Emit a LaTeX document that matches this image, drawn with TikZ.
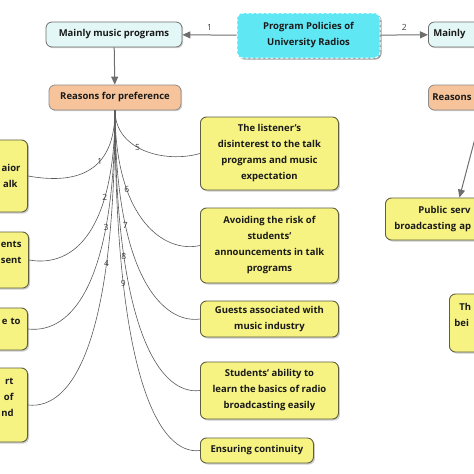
\documentclass[tikz,border=0pt]{standalone}
\usepackage{fontspec}
\setmainfont{Open Sans}
\definecolor{cCyan}{HTML}{5FE8F4}
\definecolor{cIce}{HTML}{E2F7F6}
\definecolor{cPeach}{HTML}{F6C39A}
\definecolor{cYellow}{HTML}{F6F383}
\definecolor{cEdge}{HTML}{6E6E6E}
\definecolor{cOlive}{HTML}{5E5E40}
\definecolor{cText}{HTML}{1A1A1A}
\usetikzlibrary{shapes,arrows.meta,shadows}
\tikzset{
  box/.style={rounded corners=6pt, font=\bfseries\fontsize{9.5}{16}\selectfont, text=cText, align=center, inner sep=0pt},
  root/.style={box, fill=cCyan, draw=white, densely dashed, line width=1pt, drop shadow={shadow xshift=1.5pt, shadow yshift=-1.5pt, fill=black!75}},
  topic/.style={box, fill=cIce, draw=cEdge, line width=0.8pt, drop shadow={shadow xshift=1.2pt, shadow yshift=-1.2pt, fill=black!35}},
  reason/.style={box, fill=cPeach, draw=cEdge!80, line width=0.8pt, drop shadow={shadow xshift=1.2pt, shadow yshift=-1.2pt, fill=black!35}},
  why/.style={box, fill=cYellow, draw=cOlive, line width=0.9pt, drop shadow={shadow xshift=1.5pt, shadow yshift=-1.5pt, fill=black!40}},
  link/.style={draw=cEdge, line width=1pt, -{Triangle[length=8pt,width=7pt]}},
  curve/.style={draw=black!65, line width=0.6pt},
  num/.style={font=\fontsize{8.5}{9}\selectfont, text=black!75, inner sep=1pt}
}
\begin{document}
\begin{tikzpicture}[x=1pt,y=1pt]
\path[use as bounding box, clip] (0,0) rectangle (474,-474);
% top level
\node[root, minimum width=143pt, minimum height=45pt] (policy) at (308.5,-35.5) {Program Policies of\\University Radios};
\node[topic, minimum width=136pt, minimum height=25pt] (music) at (114,-34.5) {Mainly music programs};
\node[topic, anchor=west, text width=102pt, align=left, inner xsep=5pt, minimum height=25pt] (talk) at (428,-34.5) {Mainly};
\node[reason, minimum width=132pt, minimum height=25pt] (prefer) at (115,-97.5) {Reasons for preference};
\node[reason, anchor=west, text width=104pt, align=left, inner xsep=4pt, minimum height=25pt] (prefer2) at (428,-97.5) {Reasons};
% reasons, right column
\node[why, anchor=west, minimum width=138pt, minimum height=73pt] (r1) at (200,-153.5) {The listener's\\disinterest to the talk\\programs and music\\expectation};
\node[why, anchor=west, minimum width=138pt, minimum height=75pt] (r2) at (200,-245.5) {Avoiding the risk of\\students'\\announcements in talk\\programs};
\node[why, anchor=west, minimum width=138pt, minimum height=36pt] (r3) at (200,-319) {Guests associated with\\music industry};
\node[why, anchor=west, minimum width=138pt, minimum height=57pt] (r4) at (200,-390.5) {Students' ability to\\learn the basics of radio\\broadcasting easily};
\node[why, anchor=west, minimum width=113pt, minimum height=25pt] (r5) at (200,-450.5) {Ensuring continuity};
% reasons, left column (cut by the edge)
\node[why, anchor=east, text width=120pt, align=right, inner xsep=7pt, minimum height=72pt] (l1) at (28,-176) {aior\\alk\hspace*{3pt}};
\node[why, anchor=east, text width=120pt, align=right, inner xsep=7pt, minimum height=56pt] (l2) at (29,-260) {ents\\sent\hspace*{1pt}\\\mbox{}};
\node[why, anchor=east, text width=120pt, align=right, inner xsep=7pt, minimum height=42pt] (l3) at (28,-329) {e to\\\mbox{}};
\node[why, anchor=east, text width=120pt, align=right, inner xsep=14pt, minimum height=74pt] (l4) at (28,-405) {rt\\of\hspace*{3pt}\\nd\\\mbox{}};
% right branch
\node[why, anchor=west, text width=130pt, align=left, inner xsep=9pt, minimum height=42pt] (pub) at (385,-219) {\hspace*{24pt}Public serv\\broadcasting ap};
\node[why, anchor=west, text width=120pt, align=left, inner xsep=5pt, minimum height=58pt] (being) at (449,-323) {\hspace*{5pt}Th\\bei\\\mbox{}};
% links
\draw[link] (policy) -- node[num, above=3pt] {1} (music);
\draw[link] (policy) -- node[num, above=3pt] {2} (talk);
\draw[link] (music) -- (prefer);
\draw[link] ([xshift=-2pt]prefer2.south) -- (pub.north);
\foreach \t/\a/\bx/\by/\n/\p in {l1/65/45/8/1/0.37, l2/120/45/8/2/0.3, l3/170/45/5/3/0.28, l4/230/45/5/4/0.27}
  \draw[curve] (prefer.south) .. controls +(0,-\a) and +(\bx,-\by) .. node[num, pos=\p] {\n} (\t.east);
\foreach \t/\a/\bx/\by/\n/\p in {r1/40/35/10/5/0.43, r2/110/35/8/6/0.3, r3/170/35/5/7/0.28, r4/220/40/5/8/0.27, r5/270/40/5/9/0.26}
  \draw[curve] (prefer.south) .. controls +(0,-\a) and +(-\bx,-\by) .. node[num, pos=\p] {\n} (\t.west);
\end{tikzpicture}
\end{document}
